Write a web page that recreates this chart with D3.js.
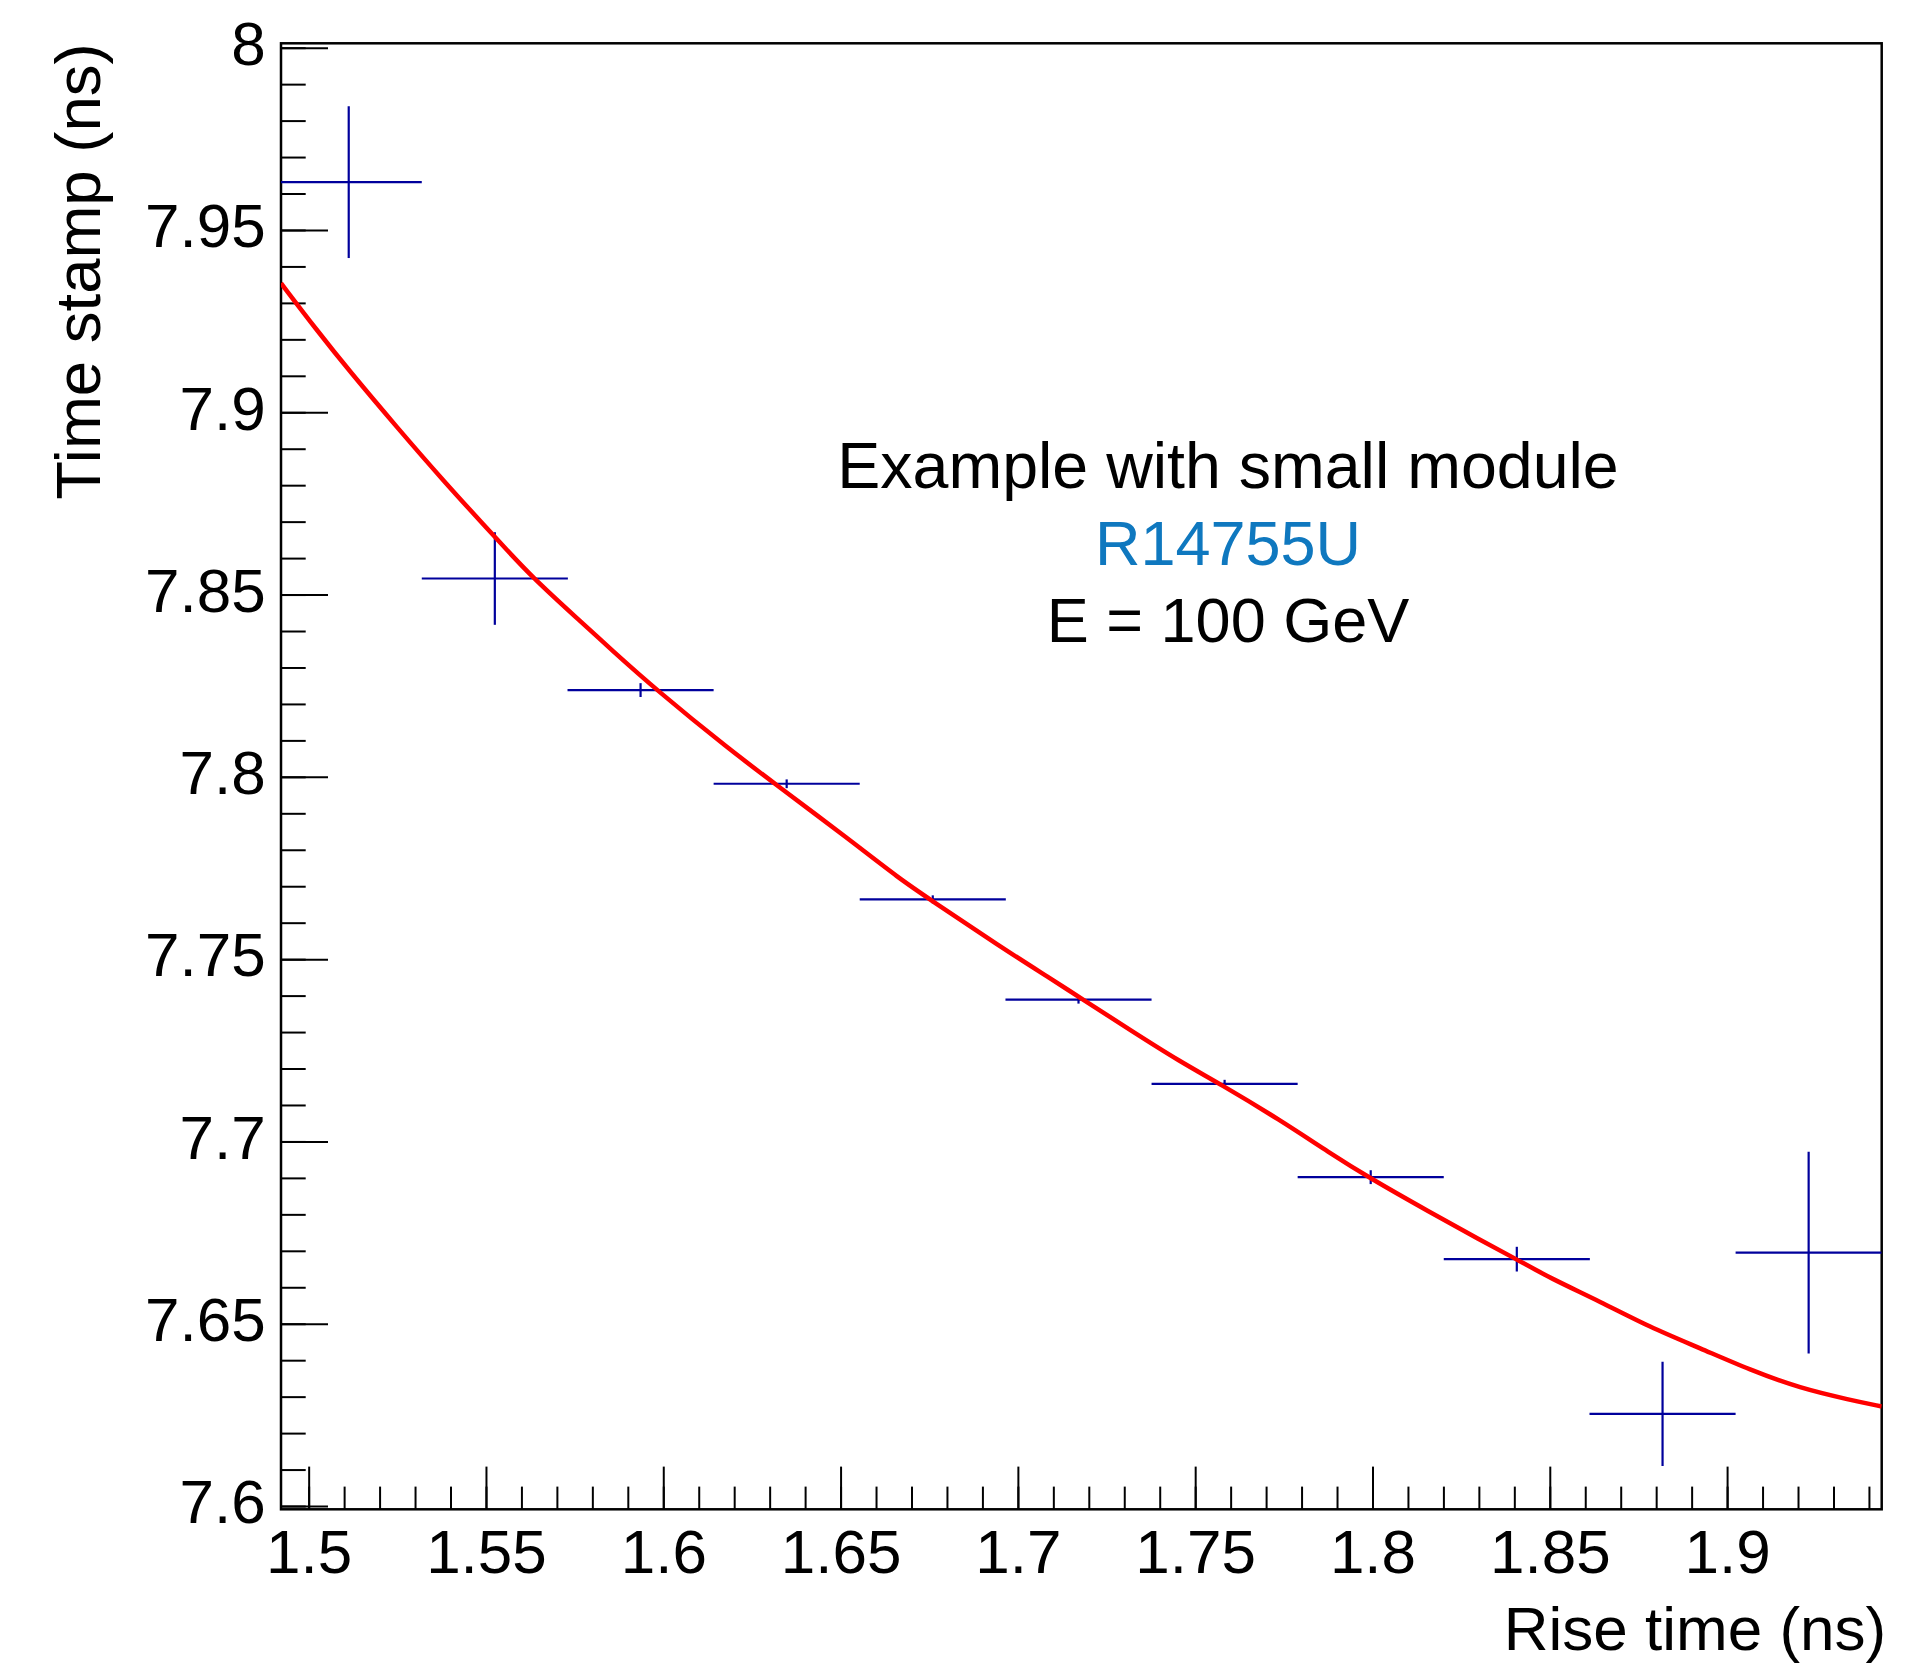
<!DOCTYPE html>
<html>
<head>
<meta charset="utf-8">
<script src="https://cdn.jsdelivr.net/npm/d3@7"></script>
<style>
  html, body { margin: 0; padding: 0; background: #fff; }
  svg { display: block; font-family: "Liberation Sans", Arial, Helvetica, sans-serif; }
  .axis path { display: none; }
  .axis line { stroke: #000; stroke-width: 2; }
  .axis text { font-size: 62px; fill: #000; }
</style>
</head>
<body>
<div id="chart"></div>
<script>
const MARGIN = { top: 43.3, right: 49.3, bottom: 153.7, left: 281 };
const OUTER_WIDTH = 1931,
  OUTER_HEIGHT = 1663,
  INNER_WIDTH = OUTER_WIDTH - MARGIN.left - MARGIN.right,
  INNER_HEIGHT = OUTER_HEIGHT - MARGIN.top - MARGIN.bottom;

// profile points (bin centre, mean time stamp) and their errors
const riseTime = [1.5113, 1.5525, 1.5936, 1.6348, 1.6760, 1.7171, 1.7583, 1.7995, 1.8407, 1.8818, 1.9230];
const riseTimeErr = [0.0206, 0.0206, 0.0206, 0.0206, 0.0206, 0.0206, 0.0206, 0.0206, 0.0206, 0.0206, 0.0206];
const timeStamp = [7.9631, 7.8544, 7.8238, 7.7981, 7.7664, 7.7389, 7.7158, 7.6902, 7.6677, 7.6253, 7.6695];
const timeStampErr = [0.0208, 0.0127, 0.0019, 0.0012, 0.0011, 0.0011, 0.0011, 0.0019, 0.0034, 0.0143, 0.0277];

// fitted curve
const fitX = [1.4922, 1.5023, 1.5116, 1.5248, 1.5380, 1.5525, 1.5630, 1.5774, 1.5850, 1.5981, 1.6188,
  1.6315, 1.6526, 1.6667, 1.6752, 1.6949, 1.7090, 1.7184, 1.7316, 1.7457, 1.7570, 1.7739, 1.7880,
  1.7988, 1.8162, 1.8303, 1.8406, 1.8501, 1.8642, 1.8783, 1.8924, 1.9065, 1.9206, 1.9347, 1.9436];
const fitY = [7.9354, 7.9225, 7.9112, 7.8960, 7.8812, 7.8658, 7.8547, 7.8420, 7.8352, 7.8238, 7.8074,
  7.7981, 7.7827, 7.7720, 7.7664, 7.7535, 7.7448, 7.7389, 7.7306, 7.7219, 7.7158, 7.7059, 7.6968,
  7.6902, 7.6806, 7.6730, 7.6677, 7.6625, 7.6561, 7.6490, 7.6433, 7.6373, 7.6323, 7.6291, 7.6273];

const xMajorTicks = [1.5, 1.55, 1.6, 1.65, 1.7, 1.75, 1.8, 1.85, 1.9];
const yMajorTicks = [7.6, 7.65, 7.7, 7.75, 7.8, 7.85, 7.9, 7.95, 8];

const annotation = [
  { text: 'Example with small module', color: '#000' },
  { text: 'R14755U', color: '#0f78bf' },
  { text: 'E = 100 GeV', color: '#000' }
];

const xScale = d3.scaleLinear().domain([1.4922, 1.9436]).range([0, INNER_WIDTH]);
const yScale = d3.scaleLinear().domain([7.5991, 8.0012]).range([INNER_HEIGHT, 0]);

const fmt = d => String(+d.toFixed(2));
const minor = (a, b) => d3.range(Math.round(a * 100), Math.round(b * 100) + 1).map(v => v / 100);

const svg = d3.select('#chart').append('svg')
  .attr('width', OUTER_WIDTH)
  .attr('height', OUTER_HEIGHT);

const g = svg.append('g')
  .attr('transform', `translate(${MARGIN.left}, ${MARGIN.top})`);

g.append('clipPath').attr('id', 'frame-clip')
  .append('rect').attr('width', INNER_WIDTH).attr('height', INNER_HEIGHT);

// minor ticks
g.append('g').attr('class', 'axis')
  .call(d3.axisLeft(yScale).tickValues(minor(7.6, 8)).tickSizeInner(-24.7).tickSizeOuter(0).tickFormat(''));
g.append('g').attr('class', 'axis')
  .attr('transform', `translate(0, ${INNER_HEIGHT})`)
  .call(d3.axisBottom(xScale).tickValues(minor(1.5, 1.94)).tickSizeInner(-22.7).tickSizeOuter(0).tickFormat(''));

// major ticks + labels
g.append('g').attr('class', 'axis')
  .call(d3.axisLeft(yScale).tickValues(yMajorTicks).tickSizeInner(-47).tickSizeOuter(0)
    .tickPadding(15.3).tickFormat(fmt))
  .selectAll('text').attr('dy', '0.27em');
g.append('g').attr('class', 'axis')
  .attr('transform', `translate(0, ${INNER_HEIGHT})`)
  .call(d3.axisBottom(xScale).tickValues(xMajorTicks).tickSizeInner(-42.7).tickSizeOuter(0)
    .tickPadding(19.7).tickFormat(fmt));

// frame
g.append('rect')
  .attr('width', INNER_WIDTH)
  .attr('height', INNER_HEIGHT)
  .attr('fill', 'none')
  .attr('stroke', '#000')
  .attr('stroke-width', 2.5);

const points = riseTime.map((x, i) => ({ x, ex: riseTimeErr[i], y: timeStamp[i], ey: timeStampErr[i] }));

const bars = g.append('g').attr('clip-path', 'url(#frame-clip)')
  .selectAll('g').data(points).enter().append('g')
  .attr('stroke', '#00009c')
  .attr('stroke-width', 2.2);
bars.append('line')
  .attr('x1', d => xScale(d.x - d.ex)).attr('x2', d => xScale(d.x + d.ex))
  .attr('y1', d => yScale(d.y)).attr('y2', d => yScale(d.y));
bars.append('line')
  .attr('x1', d => xScale(d.x)).attr('x2', d => xScale(d.x))
  .attr('y1', d => yScale(d.y - d.ey)).attr('y2', d => yScale(d.y + d.ey));

const fit = fitX.map((x, i) => [x, fitY[i]]);
g.append('path')
  .attr('clip-path', 'url(#frame-clip)')
  .datum(fit)
  .attr('fill', 'none')
  .attr('stroke', '#ff0000')
  .attr('stroke-width', 4.5)
  .attr('stroke-linejoin', 'round')
  .attr('d', d3.line().x(d => xScale(d[0])).y(d => yScale(d[1])).curve(d3.curveBasis));

// annotation
svg.append('g')
  .selectAll('text').data(annotation).enter().append('text')
  .attr('x', 1228)
  .attr('y', (d, i) => 488 + i * 77)
  .attr('text-anchor', 'middle')
  .attr('font-size', (d, i) => i === 0 ? 64.5 : 63)
  .attr('fill', d => d.color)
  .text(d => d.text);

// axis titles
svg.append('text')
  .attr('x', MARGIN.left + INNER_WIDTH + 4.5)
  .attr('y', 1650)
  .attr('text-anchor', 'end')
  .attr('font-size', 62)
  .text('Rise time (ns)');

svg.append('text')
  .attr('transform', `translate(100, ${MARGIN.top}) rotate(-90)`)
  .attr('text-anchor', 'end')
  .attr('font-size', 63.5)
  .text('Time stamp (ns)');
</script>
</body>
</html>
